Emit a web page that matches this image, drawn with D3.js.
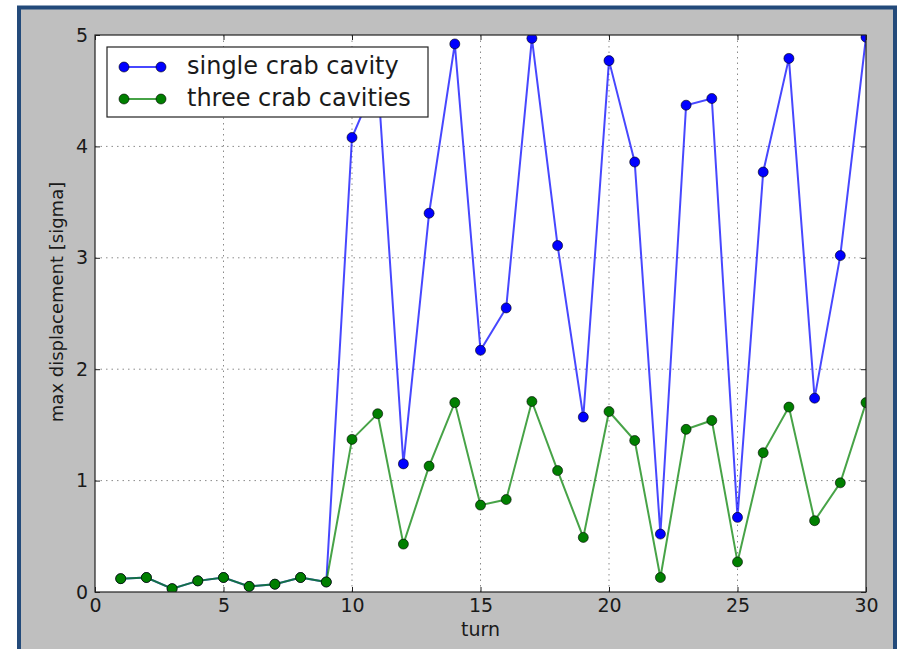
<!DOCTYPE html>
<html>
<head>
<meta charset="utf-8">
<script src="https://cdn.jsdelivr.net/npm/d3@7"></script>
<style>
  html, body { margin: 0; padding: 0; background: #ffffff; }
  svg { display: block; }
  text { font-family: "DejaVu Sans", sans-serif; fill: #1a1a1a; }
</style>
</head>
<body>
<svg id="chart" width="898" height="649"></svg>
<script>
// Turn number
const turns = d3.range(1, 31);

// Max displacement [sigma] per turn
const singleCrab = [0.12, 0.13, 0.03, 0.10, 0.13, 0.05, 0.07, 0.13, 0.09,
  4.08, 4.62, 1.15, 3.40, 4.92, 2.17, 2.55, 4.97, 3.11, 1.57, 4.77,
  3.86, 0.52, 4.37, 4.43, 0.67, 3.77, 4.79, 1.74, 3.02, 4.98];

const threeCrab = [0.12, 0.13, 0.03, 0.10, 0.13, 0.05, 0.07, 0.13, 0.09,
  1.37, 1.60, 0.43, 1.13, 1.70, 0.78, 0.83, 1.71, 1.09, 0.49, 1.62,
  1.36, 0.13, 1.46, 1.54, 0.27, 1.25, 1.66, 0.64, 0.98, 1.70];

const xTicks = [0, 5, 10, 15, 20, 25, 30];
const yTicks = [0, 1, 2, 3, 4, 5];

const seriesNames = ["single crab cavity", "three crab cavities"];
const seriesColors = ["#0000ff", "#007f00"];

const svg = d3.select("#chart");

// Outer frame
svg.append("rect")
  .attr("x", 19).attr("y", 7.5)
  .attr("width", 876).attr("height", 700)
  .attr("fill", "#bfbfbf")
  .attr("stroke", "#234a7a").attr("stroke-width", 4);

const plot = { left: 95, top: 35, right: 866, bottom: 592 };

const x = d3.scaleLinear().domain([0, 30]).range([plot.left, plot.right]);
const y = d3.scaleLinear().domain([0, 5]).range([plot.bottom, plot.top]);

// Axes background
svg.append("rect")
  .attr("x", plot.left).attr("y", plot.top)
  .attr("width", plot.right - plot.left).attr("height", plot.bottom - plot.top)
  .attr("fill", "#ffffff");

svg.append("clipPath").attr("id", "clip")
  .append("rect")
  .attr("x", plot.left).attr("y", plot.top)
  .attr("width", plot.right - plot.left).attr("height", plot.bottom - plot.top);

// Dotted grid
const grid = svg.append("g").attr("stroke", "#8a8a8a").attr("stroke-width", 1)
  .attr("stroke-dasharray", "1.5,4");
grid.selectAll(".gx").data(xTicks.slice(1, -1)).join("line")
  .attr("x1", d => x(d)).attr("x2", d => x(d))
  .attr("y1", plot.top).attr("y2", plot.bottom);
grid.selectAll(".gy").data(yTicks.slice(1, -1)).join("line")
  .attr("y1", d => y(d)).attr("y2", d => y(d))
  .attr("x1", plot.left).attr("x2", plot.right);

// Inward ticks on all four sides, labels on bottom and left
function styleAxis(g) {
  g.select(".domain").remove();
  g.selectAll(".tick line").attr("stroke", "#222").attr("stroke-width", 1);
  g.selectAll(".tick text").attr("font-size", 19).attr("fill", "#1a1a1a")
    .attr("font-family", "DejaVu Sans, sans-serif");
}
svg.append("g").attr("transform", `translate(0,${plot.bottom})`)
  .call(d3.axisBottom(x).tickValues(xTicks).tickFormat(d3.format("d")).tickSizeInner(-5).tickPadding(7))
  .call(styleAxis);
svg.append("g").attr("transform", `translate(0,${plot.top})`)
  .call(d3.axisTop(x).tickValues(xTicks).tickFormat("").tickSizeInner(-5))
  .call(styleAxis);
svg.append("g").attr("transform", `translate(${plot.left},0)`)
  .call(d3.axisLeft(y).tickValues(yTicks).tickFormat(d3.format("d")).tickSizeInner(-5).tickPadding(7))
  .call(styleAxis);
svg.append("g").attr("transform", `translate(${plot.right},0)`)
  .call(d3.axisRight(y).tickValues(yTicks).tickFormat("").tickSizeInner(-5))
  .call(styleAxis);

// Data lines and markers
const series = [singleCrab, threeCrab];
const line = d3.line().x((d, i) => x(turns[i])).y(d => y(d));
const dataLayer = svg.append("g").attr("clip-path", "url(#clip)");
series.forEach((vals, si) => {
  dataLayer.append("path")
    .datum(vals)
    .attr("d", line)
    .attr("fill", "none")
    .attr("stroke", seriesColors[si])
    .attr("stroke-opacity", 0.72)
    .attr("stroke-width", 2);
  dataLayer.selectAll(null).data(vals).join("circle")
    .attr("cx", (d, i) => x(turns[i]))
    .attr("cy", d => y(d))
    .attr("r", 5)
    .attr("fill", seriesColors[si])
    .attr("stroke", "#000")
    .attr("stroke-width", 0.6);
});

// Axes frame
svg.append("rect")
  .attr("x", plot.left).attr("y", plot.top)
  .attr("width", plot.right - plot.left).attr("height", plot.bottom - plot.top)
  .attr("fill", "none").attr("stroke", "#222").attr("stroke-width", 1.2);

// Axis titles
svg.append("text")
  .attr("x", (plot.left + plot.right) / 2).attr("y", 636)
  .attr("text-anchor", "middle").attr("font-size", 19)
  .text("turn");
svg.append("text")
  .attr("transform", "translate(63,302) rotate(-90)")
  .attr("text-anchor", "middle").attr("font-size", 18)
  .text("max displacement [sigma]");

// Legend
const legend = svg.append("g");
legend.append("rect")
  .attr("x", 107).attr("y", 47).attr("width", 321).attr("height", 70)
  .attr("fill", "#ffffff").attr("stroke", "#222").attr("stroke-width", 1.2);
seriesNames.forEach((name, si) => {
  const ly = 67 + si * 32;
  legend.append("line")
    .attr("x1", 124).attr("x2", 161).attr("y1", ly).attr("y2", ly)
    .attr("stroke", seriesColors[si]).attr("stroke-opacity", 0.72).attr("stroke-width", 2);
  [124, 161].forEach(cx => legend.append("circle")
    .attr("cx", cx).attr("cy", ly).attr("r", 5)
    .attr("fill", seriesColors[si]).attr("stroke", "#000").attr("stroke-width", 0.6));
  legend.append("text")
    .attr("x", 187).attr("y", ly + 7)
    .attr("font-size", 24)
    .text(name);
});
</script>
</body>
</html>
